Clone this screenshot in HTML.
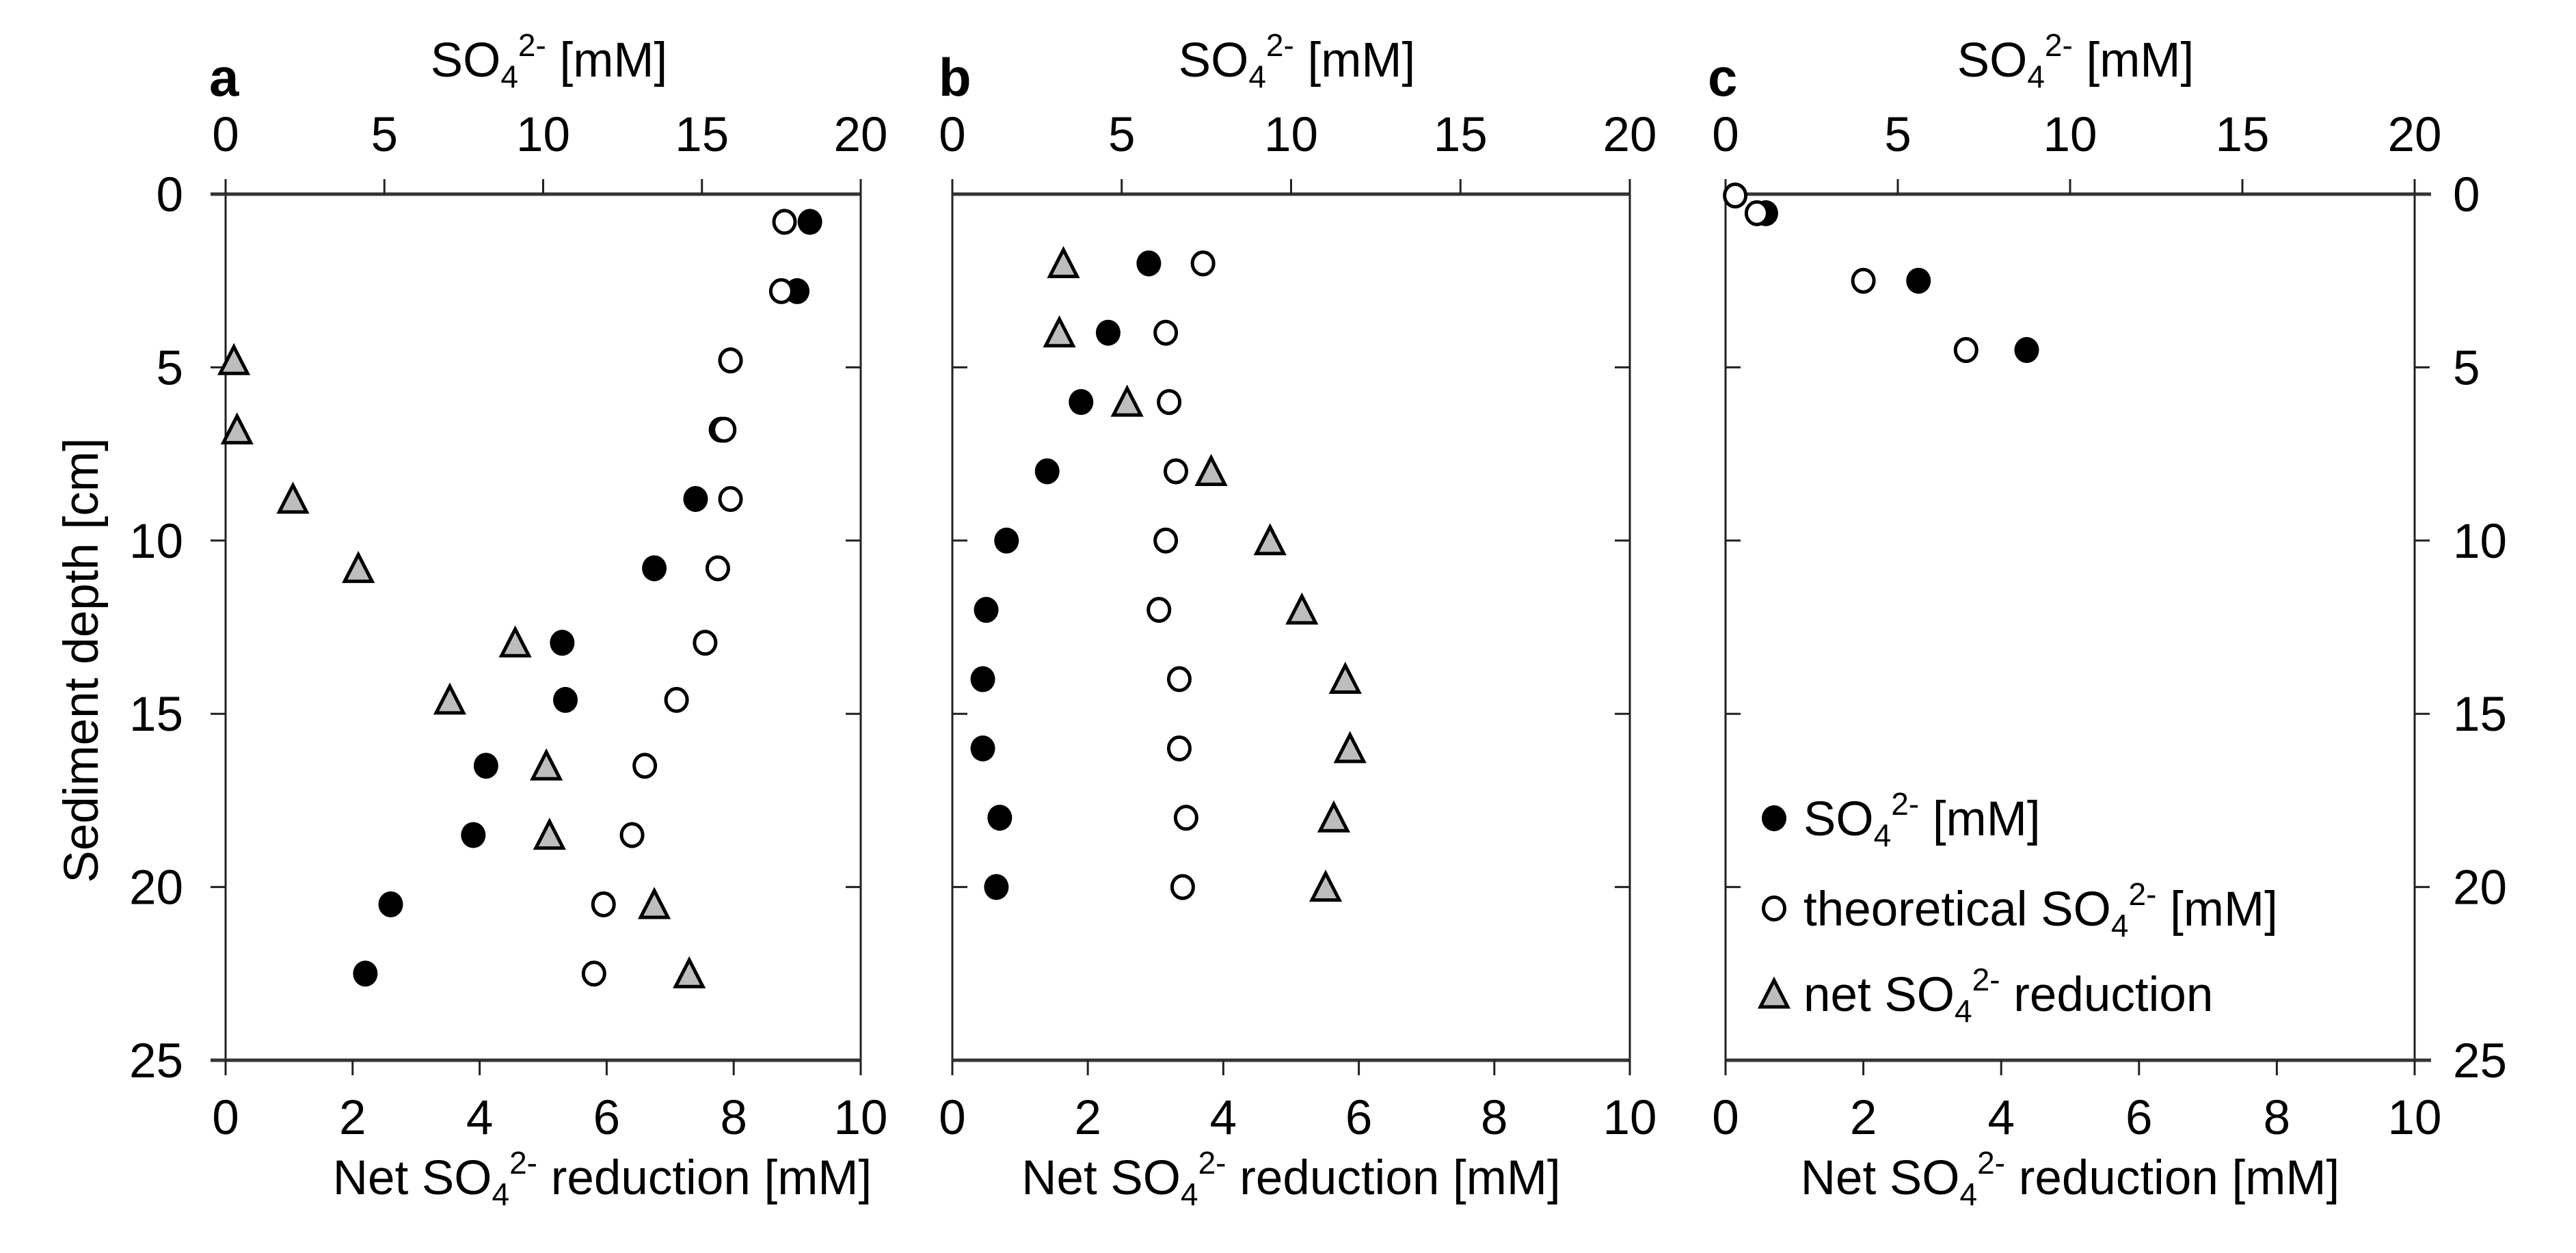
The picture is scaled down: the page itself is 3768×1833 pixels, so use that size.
<!DOCTYPE html>
<html><head><meta charset="utf-8">
<style>
html,body{margin:0;padding:0;background:#fff;}
svg{display:block;font-family:"Liberation Sans",Arial,sans-serif;}
</style></head>
<body>
<svg id="chart" width="3768" height="1833" viewBox="0 0 3768 1833" xmlns="http://www.w3.org/2000/svg"></svg>
<script>
// ---- data ----
const depthTicks = [0,5,10,15,20,25];
const topTicks = [0,5,10,15,20];
const bottomTicks = [0,2,4,6,8,10];
// Panel a
const aSO4Depth = [0.8,2.8,4.8,6.8,8.8,10.8,12.95,14.6,16.5,18.5,20.5,22.5];
const aSO4 = [18.4,18.0,15.9,15.6,14.8,13.5,10.6,10.7,8.2,7.8,5.2,4.4];
const aTheo = [17.6,17.5,15.9,15.7,15.9,15.5,15.1,14.2,13.2,12.8,11.9,11.6];
const aNetDepth = [4.8,6.8,8.8,10.8,12.95,14.6,16.5,18.5,20.5,22.5];
const aNet = [0.13,0.18,1.06,2.09,4.56,3.53,5.05,5.1,6.75,7.3];
// Panel b
const bDepth = [2,4,6,8,10,12,14,16,18,20];
const bSO4 = [5.8,4.6,3.8,2.8,1.6,1.0,0.9,0.9,1.4,1.3];
const bTheo = [7.4,6.3,6.4,6.6,6.3,6.1,6.7,6.7,6.9,6.8];
const bNet = [1.64,1.58,2.58,3.82,4.69,5.16,5.8,5.87,5.63,5.51];
// Panel c
const cSO4Depth = [0.55,2.5,4.5];
const cSO4 = [1.17,5.6,8.74];
const cTheoDepth = [0.04,0.55,2.5,4.5];
const cTheo = [0.28,0.91,4.0,6.98];

const NS="http://www.w3.org/2000/svg";
const svg=document.getElementById('chart');
function el(tag,attrs,parent){const e=document.createElementNS(NS,tag);for(const k in attrs)e.setAttribute(k,attrs[k]);(parent||svg).appendChild(e);return e;}

const TOP=284, BOT=1551;
const yS=d=>TOP+(BOT-TOP)*d/25;
const FS=71;

function sulfText(parent,x,y,pre,post,anchor,name){
  const t=el('text',{x:x,y:y,'font-size':FS,'text-anchor':anchor||'start',fill:'#000'},parent);
  
  
  const s0=el('tspan',{},t);s0.textContent=pre+'SO';
  const s1=el('tspan',{dy:16,'font-size':46},t);s1.textContent='4';
  const s2=el('tspan',{dy:-46,'font-size':46},t);s2.textContent='2-';
  const s3=el('tspan',{dy:30},t);s3.textContent=post;
  return t;
}

function filled(g,x,y,name){const c=el('ellipse',{cx:x,cy:y,rx:18,ry:19,fill:'#000'},g);}
function open(g,x,y,name){const c=el('ellipse',{cx:x,cy:y,rx:15.5,ry:16.5,fill:'#fff',stroke:'#000','stroke-width':5},g);}
function tri(g,x,y,name){const p=el('polygon',{points:`${x},${y-20} ${x+20},${y+19} ${x-20},${y+19}`,fill:'#bdbdbd',stroke:'#000','stroke-width':5,'stroke-linejoin':'miter'},g);}

function panel(id,L,R,letter,letterX,leftOut,rightOut,leftLabels,rightLabels,titleCx){
  const g=el('g',{});
  
  
  const W=R-L;
  el('line',{x1:L,y1:TOP,x2:L,y2:BOT,stroke:'#222','stroke-width':3},g);
  el('line',{x1:R,y1:TOP,x2:R,y2:BOT,stroke:'#222','stroke-width':3},g);
  const ext1=leftOut?L-22:L, ext2=rightOut?R+24:R;
  el('line',{x1:ext1,y1:TOP,x2:ext2,y2:TOP,stroke:'#333','stroke-width':5},g);
  el('line',{x1:ext1,y1:BOT,x2:ext2,y2:BOT,stroke:'#333','stroke-width':5},g);
  topTicks.forEach(v=>{
    const x=L+W*v/20;
    el('line',{x1:x,y1:TOP,x2:x,y2:TOP-22,stroke:'#222','stroke-width':3},g);
    const t=el('text',{x:x,y:221,'font-size':FS,'text-anchor':'middle'},g);
    
    
    t.textContent=v;
  });
  bottomTicks.forEach(v=>{
    const x=L+W*v/10;
    el('line',{x1:x,y1:BOT,x2:x,y2:BOT+22,stroke:'#222','stroke-width':3},g);
    const t=el('text',{x:x,y:1659,'font-size':FS,'text-anchor':'middle'},g);
    
    
    t.textContent=v;
  });
  depthTicks.forEach(v=>{
    const y=yS(v);
    if(v>0&&v<25){
      el('line',{x1:L,y1:y,x2:leftOut?L-22:L+22,y2:y,stroke:'#222','stroke-width':3},g);
      el('line',{x1:R,y1:y,x2:rightOut?R+22:R-22,y2:y,stroke:'#222','stroke-width':3},g);
    }
    if(leftLabels){
      const t=el('text',{x:268,y:y+25,'font-size':FS,'text-anchor':'end'},g);
      
      
      t.textContent=v;
    }
    if(rightLabels){
      const t=el('text',{x:3588,y:y+25,'font-size':FS,'text-anchor':'start'},g);
      
      
      t.textContent=v;
    }
  });
  sulfText(g,titleCx,112,'',' [mM]','middle','top-axis-title');
  sulfText(g,(id==='a'?881:(L+R)/2),1747,'Net ',' reduction [mM]','middle','bottom-axis-title');
  const lt=el('text',{x:letterX,y:140,'font-size':78,'font-weight':'bold'},g);
  
  
  lt.textContent=letter;
  return {g, xTop:v=>L+W*v/20, xBot:v=>L+W*v/10};
}

const A=panel('a',330,1259,'a',306,true,false,true,false,803);
aSO4.forEach((v,i)=>filled(A.g,A.xTop(v),yS(aSO4Depth[i]),'so4-point'));
aTheo.forEach((v,i)=>open(A.g,A.xTop(v),yS(aSO4Depth[i]),'theoretical-so4-point'));
aNet.forEach((v,i)=>tri(A.g,A.xBot(v),yS(aNetDepth[i]),'net-reduction-point'));

const B=panel('b',1393,2384,'b',1373,false,false,false,false,1897);
bTheo.forEach((v,i)=>open(B.g,B.xTop(v),yS(bDepth[i]),'theoretical-so4-point'));
bSO4.forEach((v,i)=>filled(B.g,B.xTop(v),yS(bDepth[i]),'so4-point'));
bNet.forEach((v,i)=>tri(B.g,B.xBot(v),yS(bDepth[i]),'net-reduction-point'));

const C=panel('c',2524,3532,'c',2498,false,true,false,true,3036);
cSO4.forEach((v,i)=>filled(C.g,C.xTop(v),yS(cSO4Depth[i]),'so4-point'));
cTheo.forEach((v,i)=>open(C.g,C.xTop(v),yS(cTheoDepth[i]),'theoretical-so4-point'));

const yt=el('text',{x:0,y:0,'font-size':FS,'text-anchor':'middle',transform:'translate(143,966) rotate(-90)'});


yt.textContent='Sediment depth [cm]';

const lg=el('g',{});


filled(lg,2595,1197,'legend-so4-marker');
sulfText(lg,2638,1222,'',' [mM]','start','legend-so4-label');
open(lg,2595,1329,'legend-theoretical-marker');
sulfText(lg,2638,1354,'theoretical ',' [mM]','start','legend-theoretical-label');
tri(lg,2595,1454,'legend-net-marker');
sulfText(lg,2638,1479,'net ',' reduction','start','legend-net-label');
</script>
</body></html>
